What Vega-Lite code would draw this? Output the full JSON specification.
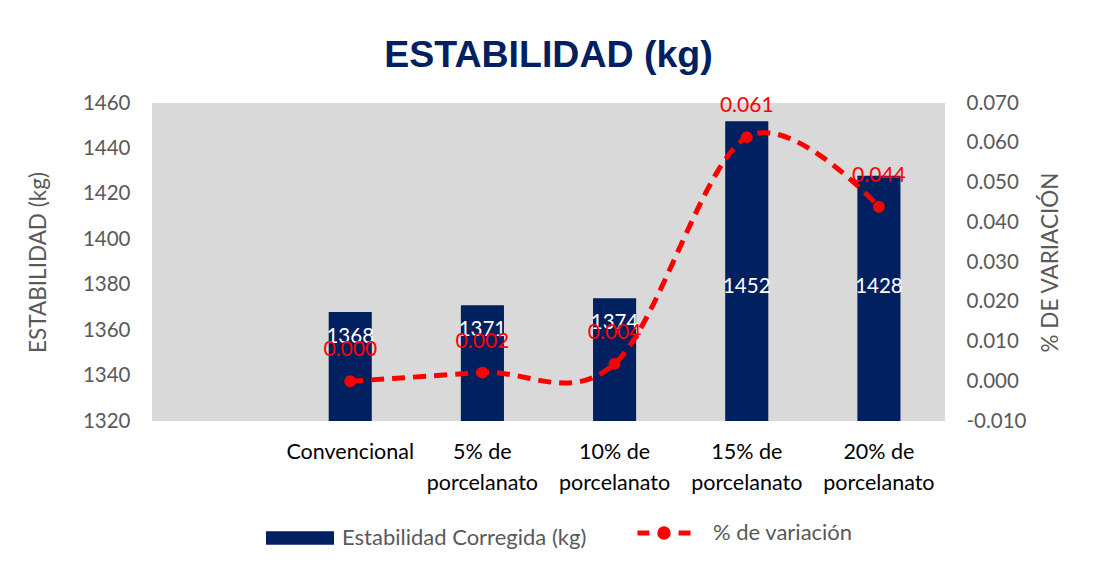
{
  "$schema": "https://vega.github.io/schema/vega-lite/v6.json",
  "autosize": "none",
  "width": 793,
  "height": 318,
  "padding": {"left": 152, "top": 103, "right": 151, "bottom": 146},
  "background": "#FFFFFF",
  "title": {
    "text": "ESTABILIDAD (kg)",
    "font": "Liberation Sans",
    "fontSize": 37.5,
    "fontWeight": "bold",
    "color": "#002060",
    "anchor": "middle",
    "offset": 19
  },
  "config": {
    "view": {"fill": "#D9D9D9", "stroke": null},
    "font": "Lato",
    "axis": {"grid": false, "domain": false, "ticks": false, "labelFont": "Lato", "titleFont": "Lato", "labelColor": "#595959", "titleColor": "#595959", "labelFontSize": 20.5, "titleFontSize": 22.5, "titleFontWeight": "normal", "labelOverlap": false}
  },
  "data": {
    "values": [
      {"cat": "Convencional", "est": 1368, "pct": 0.0},
      {"cat": "5% de porcelanato", "est": 1371, "pct": 0.00219},
      {"cat": "10% de porcelanato", "est": 1374, "pct": 0.00439},
      {"cat": "15% de porcelanato", "est": 1452, "pct": 0.0614},
      {"cat": "20% de porcelanato", "est": 1428, "pct": 0.0439}
    ]
  },
  "encoding": {
    "x": {
      "field": "cat",
      "type": "nominal",
      "sort": null,
      "scale": {"domain": [" ", "Convencional", "5% de porcelanato", "10% de porcelanato", "15% de porcelanato", "20% de porcelanato"], "paddingInner": 0.674, "paddingOuter": 0.337},
      "axis": {
        "title": null,
        "labelAngle": 0,
        "labelColor": "#000000",
        "labelFontSize": 21.5,
        "labelPadding": 20,
        "labelLineHeight": 31,
        "labelExpr": "indexof(datum.value, ' porcelanato') > 0 ? [slice(datum.value, 0, indexof(datum.value, ' porcelanato')), 'porcelanato'] : datum.value"
      }
    }
  },
  "layer": [
    {
      "layer": [
        {
          "mark": {"type": "bar", "clip": true},
          "encoding": {
            "y": {"field": "est", "type": "quantitative", "scale": {"domain": [1320, 1460], "zero": false, "nice": false}, "axis": {"title": "ESTABILIDAD (kg)", "format": "d", "values": [1320, 1340, 1360, 1380, 1400, 1420, 1440, 1460], "labelOverlap": false, "labelPadding": 22, "titlePadding": 32}},
            "fill": {"datum": "Estabilidad Corregida (kg)", "type": "nominal", "scale": {"range": ["#002060"]}, "legend": {"title": null, "orient": "none", "legendX": 114, "legendY": 401, "symbolType": "M-1,-0.2H1V0.2H-1Z", "symbolSize": 4624, "symbolStrokeWidth": 0, "labelFont": "Lato", "labelFontSize": 22, "labelColor": "#595959", "labelOffset": 8, "labelLimit": 400}}
          }
        },
        {
          "transform": [{"calculate": "min(datum.est - 11, 1379)", "as": "lab_y"}],
          "mark": {"type": "text", "color": "#FFFFFF", "fontSize": 20.5, "font": "Lato", "baseline": "middle"},
          "encoding": {
            "y": {"field": "lab_y", "type": "quantitative"},
            "text": {"field": "est", "type": "quantitative"}
          }
        }
      ]
    },
    {
      "encoding": {
        "y": {"field": "pct", "type": "quantitative", "scale": {"domain": [-0.01, 0.07], "nice": false, "zero": false}, "axis": {"orient": "right", "title": "% DE VARIACIÓN", "titleAngle": -90, "labelOverlap": false, "labelExpr": "replace(format(datum.value, '.3f'), '\u2212', '-')", "values": [-0.01, 0, 0.01, 0.02, 0.03, 0.04, 0.05, 0.06, 0.07], "labelPadding": 21, "titlePadding": 36}}
      },
      "layer": [
        {
          "mark": {"type": "line", "interpolate": "cardinal", "strokeWidth": 5, "strokeDash": [13, 8]},
          "encoding": {
            "stroke": {"datum": "% de variación", "type": "nominal", "scale": {"range": ["#FF0000"]}, "legend": {"title": null, "orient": "none", "legendX": 483, "legendY": 401, "symbolType": "M-1,0H-0.55M0.55,0H1M-0.16,0A0.16,0.16,0,1,1,0.16,0A0.16,0.16,0,1,1,-0.16,0Z", "symbolSize": 2809, "symbolStrokeWidth": 5, "symbolFillColor": "#FF0000", "symbolStrokeColor": "#FF0000", "labelFont": "Lato", "labelFontSize": 22, "labelColor": "#595959", "labelOffset": 20, "labelLimit": 400}}
          }
        },
        {
          "mark": {"type": "point", "filled": true, "size": 140, "color": "#FF0000", "opacity": 1},
          "encoding": {}
        },
        {
          "mark": {"type": "text", "color": "#FF0000", "fontSize": 21, "font": "Lato", "baseline": "middle", "dy": -31},
          "encoding": {
            "text": {"field": "pct", "type": "quantitative", "format": ".3f"}
          }
        }
      ]
    }
  ],
  "resolve": {"scale": {"y": "independent", "fill": "independent", "stroke": "independent"}}
}
